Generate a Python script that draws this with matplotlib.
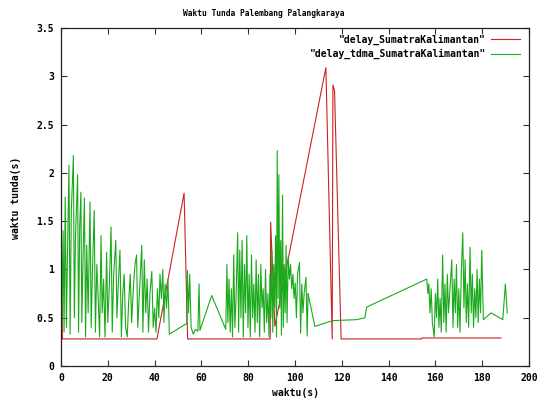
import matplotlib
matplotlib.use("Agg")
import matplotlib.pyplot as plt
from matplotlib.ticker import FormatStrFormatter

# Waktu tunda (delay) Palembang - Palangkaraya
# Data dibaca kira-kira dari grafik gnuplot asli

judul = "Waktu Tunda Palembang Palangkaraya"
label_x = "waktu(s)"
label_y = "waktu tunda(s)"
nama_seri = ['"delay_SumatraKalimantan"', '"delay_tdma_SumatraKalimantan"']

# seri 1: delay biasa (merah)
delay_x = [0, 0.6, 41.0, 52.6, 54.1, 89.4, 89.6, 91.4, 113.2, 115.9, 116.2, 116.9, 119.7, 154.0, 154.2, 188.0]
delay_y = [1.72, 0.28, 0.28, 1.79, 0.28, 0.28, 1.49, 0.41, 3.09, 0.28, 2.91, 2.85, 0.28, 0.28, 0.29, 0.29]

# seri 2: delay tdma (hijau)
tdma_x = [0, 0.4, 0.9, 1.3, 1.8, 2.3, 2.8, 3.4, 3.9, 4.4, 5.3, 5.7, 6.2, 7.1, 7.5, 8.0,
          8.5, 8.9, 9.4, 10.0, 10.5, 11.0, 11.6, 12.4, 12.9, 13.4, 14.2, 14.7, 15.3, 15.9,
          16.5, 17.1, 17.6, 18.2, 18.8, 19.5, 20.0, 20.6, 21.4, 21.9, 22.5, 23.4, 23.9, 24.5,
          25.2, 25.8, 26.4, 27.0, 27.6, 28.3, 28.9, 29.6, 30.2, 30.9, 31.6, 32.3, 32.8, 33.4,
          34.5, 35.0, 35.6, 36.2, 36.8, 37.4, 38.0, 38.8, 39.4, 40.0, 40.6, 41.2, 41.8, 42.3,
          42.9, 43.5, 44.0, 44.5, 45.1, 45.7, 46.3,
          53.7, 54.0, 54.5, 55.0, 55.6, 56.5, 57.5, 58.5, 59.0, 59.4, 64.4, 70.4,
          70.9, 71.3, 71.8, 72.3, 72.8, 73.3, 73.8, 74.3, 74.8, 75.5, 75.9, 76.4, 76.9, 77.4,
          77.9, 78.4, 78.9, 79.4, 79.9, 80.4, 80.9, 81.4, 81.9, 82.4, 82.9, 83.4, 83.9, 84.4,
          84.9, 85.4, 85.9, 86.4, 86.9, 87.4, 87.9, 88.4, 88.9,
          89.3, 89.7, 90.1, 90.5, 90.9, 91.3, 91.7, 92.1, 92.4, 92.8, 93.1, 93.5, 93.9, 94.2,
          94.7, 95.0, 95.4, 95.8, 96.2, 96.6, 97.1, 97.6, 98.1, 98.6, 99.1, 99.6, 100.1, 100.6,
          101.1, 101.9, 102.4, 102.9, 103.4, 103.9, 104.7, 105.2, 105.6, 106.0, 108.5,
          116.1, 126.4, 129.9, 130.6, 156.3,
          156.8, 157.2, 157.7, 158.2, 158.7, 159.5, 160.0, 160.5, 161.0, 161.5, 162.0, 162.5,
          163.1, 163.6, 164.1, 164.6, 165.1, 165.6, 166.1, 167.0, 167.5, 168.0, 168.5, 169.0,
          169.5, 170.0, 170.5, 171.1, 171.7, 172.2, 172.7, 173.2, 173.7, 174.2, 174.8, 175.3,
          175.8, 176.3, 176.8, 177.3, 177.8, 178.3, 178.8, 179.3, 179.8, 180.5,
          183.8, 188.8, 189.9, 190.7]
tdma_y = [1.95, 0.45, 1.40, 0.35, 1.75, 0.40, 1.20, 2.08, 0.33, 1.60, 2.18, 0.50, 1.35, 1.98, 0.35, 1.45,
          1.80, 0.45, 1.10, 1.74, 0.30, 1.25, 0.55, 1.70, 0.40, 0.95, 1.61, 0.35, 1.05, 0.70,
          0.30, 1.35, 0.55, 0.90, 0.30, 1.18, 0.45, 0.80, 1.44, 0.35, 0.95, 1.30, 0.50, 0.85,
          1.20, 0.30, 0.75, 0.95, 0.40, 0.30, 0.65, 0.95, 0.45, 0.80, 1.05, 1.15, 0.40, 0.70,
          1.25, 0.35, 1.10, 0.55, 0.90, 0.35, 0.75, 0.98, 0.40, 0.60, 0.35, 0.80, 0.50, 0.95,
          0.70, 1.00, 0.45, 0.85, 0.60, 0.90, 0.33,
          0.44, 0.99, 0.55, 0.95, 0.40, 0.33, 0.38, 0.36, 0.85, 0.37, 0.73, 0.38,
          1.05, 0.45, 0.90, 0.35, 0.80, 0.30, 1.15, 0.40, 0.70, 1.38, 0.35, 1.20, 0.50, 1.30,
          0.30, 1.05, 0.55, 1.35, 0.40, 0.95, 0.30, 1.15, 0.50, 0.85, 0.35, 1.10, 0.45, 0.95,
          0.30, 1.05, 0.60, 0.80, 0.35, 1.00, 0.45, 0.75, 0.30,
          0.95, 0.50, 1.20, 0.35, 1.05, 0.60, 1.35, 0.30, 2.23, 0.70, 1.98, 0.60, 1.30, 0.32,
          1.77, 0.40, 1.05, 0.55, 1.25, 0.45, 1.13, 0.90, 1.05, 0.80, 0.95, 0.70, 0.86, 0.50,
          0.95, 1.07, 0.34, 0.85, 0.55, 0.75, 0.92, 0.31, 0.75, 0.70, 0.41,
          0.47, 0.48, 0.50, 0.61, 0.90,
          0.75, 0.85, 0.55, 0.80, 0.45, 0.30, 0.75, 0.50, 0.90, 0.40, 0.70, 0.35,
          1.15, 0.45, 0.85, 0.35, 0.95, 0.55, 0.75, 1.10, 0.40, 0.90, 0.55, 1.05,
          0.40, 0.80, 0.35, 1.00, 1.38, 0.60, 1.10, 0.45, 0.85, 0.40, 1.23, 0.55,
          0.95, 0.40, 0.80, 0.50, 1.00, 0.45, 0.90, 0.55, 1.20, 0.48,
          0.55, 0.48, 0.85, 0.55]

x_ticks = [0, 20, 40, 60, 80, 100, 120, 140, 160, 180, 200]
y_ticks = [0, 0.5, 1, 1.5, 2, 2.5, 3, 3.5]

font_mono = "DejaVu Sans Mono"

fig = plt.figure(figsize=(5.44, 4.01), dpi=100)
ax = fig.add_axes([61 / 544, 1 - 366 / 401, (529 - 61) / 544, (366 - 28) / 401])

ax.plot(delay_x, delay_y, color="#cc2222", linewidth=0.8, label=nama_seri[0])
ax.plot(tdma_x, tdma_y, color="#1aaa1a", linewidth=0.8, label=nama_seri[1])

ax.set_xlim(0, 200)
ax.set_ylim(0, 3.5)
ax.set_xticks(x_ticks)
ax.set_yticks(y_ticks)
ax.yaxis.set_major_formatter(FormatStrFormatter("%g"))

# tick ke dalam di keempat sisi seperti gnuplot
ax.tick_params(direction="in", length=4, width=0.8, top=True, right=True, color="#333333")
ax.tick_params(axis="x", pad=5)
ax.tick_params(axis="y", pad=5)
for lbl in ax.get_xticklabels() + ax.get_yticklabels():
    lbl.set_family(font_mono)
    lbl.set_fontweight("bold")
    lbl.set_fontsize(7)
for sp in ax.spines.values():
    sp.set_linewidth(0.9)
    sp.set_color("#222222")

# judul sedikit lebih kecil supaya lebarnya mirip aslinya
fig.text(264 / 544, 1 - 14 / 401, judul, ha="center", va="center",
         family=font_mono, fontweight="bold", fontsize=5.7)
fig.text(295 / 544, 1 - 393 / 401, label_x, ha="center", va="center",
         family=font_mono, fontweight="bold", fontsize=7)
fig.text(16 / 544, 1 - 198 / 401, label_y, ha="center", va="center", rotation=90,
         family=font_mono, fontweight="bold", fontsize=7)

# legenda: teks di kiri, garis di kanan
ax.legend(loc="upper right", bbox_to_anchor=(0.995, 1.0), frameon=False, markerfirst=False,
          prop={"family": font_mono, "weight": "bold", "size": 7},
          handlelength=3.0, handletextpad=0.5, labelspacing=0.4, borderaxespad=0.3)

fig.savefig("out.png", dpi=100)
